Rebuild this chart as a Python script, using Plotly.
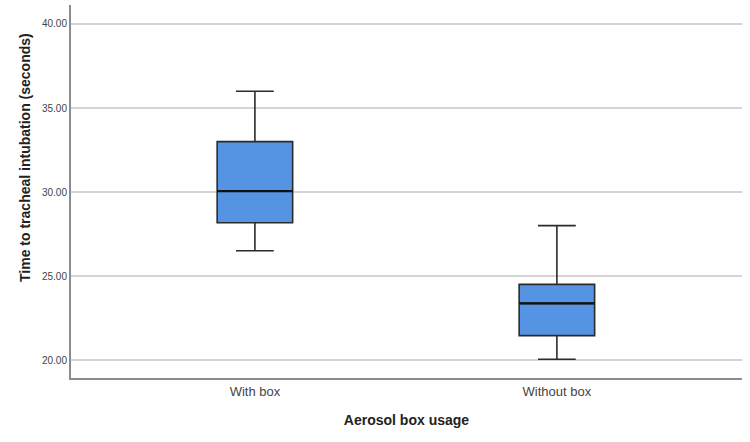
import plotly.graph_objects as go

categories = ["With box", "Without box"]
lower_whisker = [26.5, 20.05]
q1_vals = [28.17, 21.45]
median_vals = [30.05, 23.37]
q3_vals = [33.0, 24.5]
upper_whisker = [36.0, 28.0]
y_ticks = [20, 25, 30, 35, 40]

FILL = "#5593E3"
LINE = "#2b2b2b"
FONT = "Liberation Sans, Arial, sans-serif"

fig = go.Figure()
fig.add_trace(go.Box(
    x=categories,
    q1=q1_vals, median=median_vals, q3=q3_vals,
    lowerfence=lower_whisker, upperfence=upper_whisker,
    fillcolor=FILL,
    line=dict(color=LINE, width=1.6),
    width=0.25,
    whiskerwidth=0.5,
    boxpoints=False,
    hoverinfo="skip",
    showlegend=False,
))
# thicker median line overlay
for i, c in enumerate(categories):
    fig.add_shape(type="line", xref="x", yref="y",
                  x0=i - 0.125, x1=i + 0.125,
                  y0=median_vals[i], y1=median_vals[i],
                  line=dict(color="#111111", width=2.4))

fig.add_annotation(
    text="<b>Time to tracheal intubation (seconds)</b>",
    xref="paper", yref="paper", x=-0.0686, y=0.5925,
    textangle=-90, showarrow=False,
    xanchor="center", yanchor="middle",
    font=dict(size=14, color="#222222", family=FONT),
)

fig.update_layout(
    width=750, height=442,
    margin=dict(l=71, r=8, t=5, b=64),
    paper_bgcolor="white", plot_bgcolor="white",
    font=dict(family=FONT, color="#333333"),
    showlegend=False,
)
fig.update_xaxes(
    type="category",
    range=[-0.609, 1.613],
    showline=True, linecolor="#8c8c8c", linewidth=2,
    showgrid=False, ticks="",
    tickfont=dict(size=13, color="#444444", family=FONT),
    title=dict(text="<b>Aerosol box usage</b>", font=dict(size=14, color="#222222", family=FONT), standoff=18),
)
fig.update_yaxes(
    range=[18.93, 41.13],
    tickvals=y_ticks,
    ticktext=[f"{v:.2f}" for v in y_ticks],
    showline=True, linecolor="#8c8c8c", linewidth=2,
    showgrid=True, gridcolor="#d4d4d4", gridwidth=1.5,
    zeroline=False, ticks="",
    tickfont=dict(size=10, color="#444444", family=FONT),
)

fig.write_html("out.html")
